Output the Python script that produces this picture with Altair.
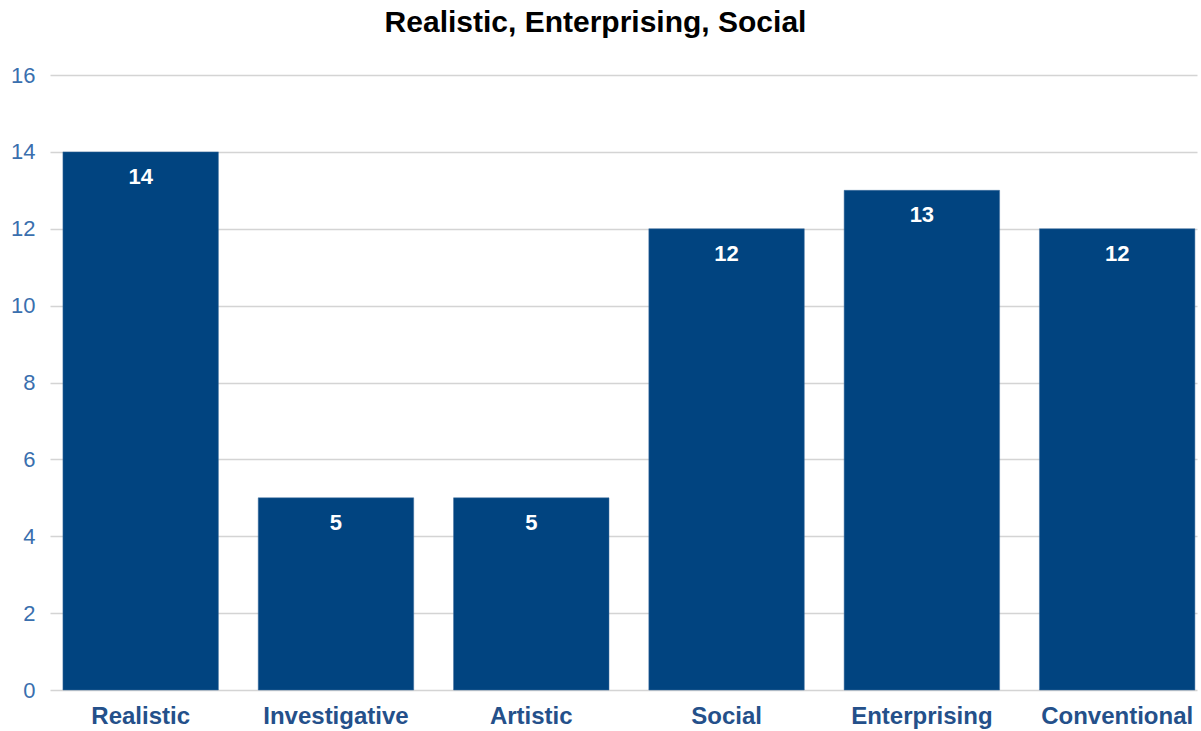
import altair as alt
import pandas as pd

categories = ["Realistic", "Investigative", "Artistic", "Social", "Enterprising", "Conventional"]
values = [14, 5, 5, 12, 13, 12]
title_text = "Realistic, Enterprising, Social"
y_ticks = [0, 2, 4, 6, 8, 10, 12, 14, 16]

df = pd.DataFrame({"category": categories, "value": values})

FONT = "Liberation Sans"
BAR = "#014480"

x_scale = alt.Scale(paddingInner=0.204, paddingOuter=0.0385, align=0.86)
y_scale = alt.Scale(domain=[0, 16], nice=False)

x_enc = alt.X(
    "category:N",
    sort=categories,
    title=None,
    scale=x_scale,
    axis=alt.Axis(
        labelAngle=0, ticks=False, domain=False, labelPadding=14,
        labelFont=FONT, labelFontSize=24, labelFontWeight="bold",
        labelColor="#24508a", grid=False,
    ),
)
y_enc = alt.Y(
    "value:Q",
    title=None,
    scale=y_scale,
    axis=alt.Axis(
        values=y_ticks, ticks=False, domain=False, labelPadding=15,
        labelFont=FONT, labelFontSize=22, labelColor="#3a6fae",
        gridColor="#d4d4d4", gridWidth=1.3,
    ),
)

bars = alt.Chart(df).mark_bar(color=BAR, stroke="#3f6f9f", strokeWidth=0.5).encode(x=x_enc, y=y_enc)
labels = alt.Chart(df).mark_text(
    color="white", font=FONT, fontSize=22, fontWeight="bold", baseline="middle", dy=25
).encode(
    x=alt.X("category:N", sort=categories),
    y=alt.Y("value:Q"),
    text="value:Q",
)

chart = (
    alt.layer(bars, labels)
    .properties(
        width=1147,
        height=615,
        background="white",
        title=alt.TitleParams(
            title_text, font=FONT, fontSize=30, fontWeight="bold", color="#000000",
            anchor="middle", dx=-28, offset=26,
        ),
        autosize=alt.AutoSizeParams(type="none"),
        padding={"left": 50, "top": 75, "right": 4, "bottom": 41},
    )
    .configure_view(strokeWidth=0)
)

chart.save("out.html", embed_options={"renderer": "svg", "actions": False})
